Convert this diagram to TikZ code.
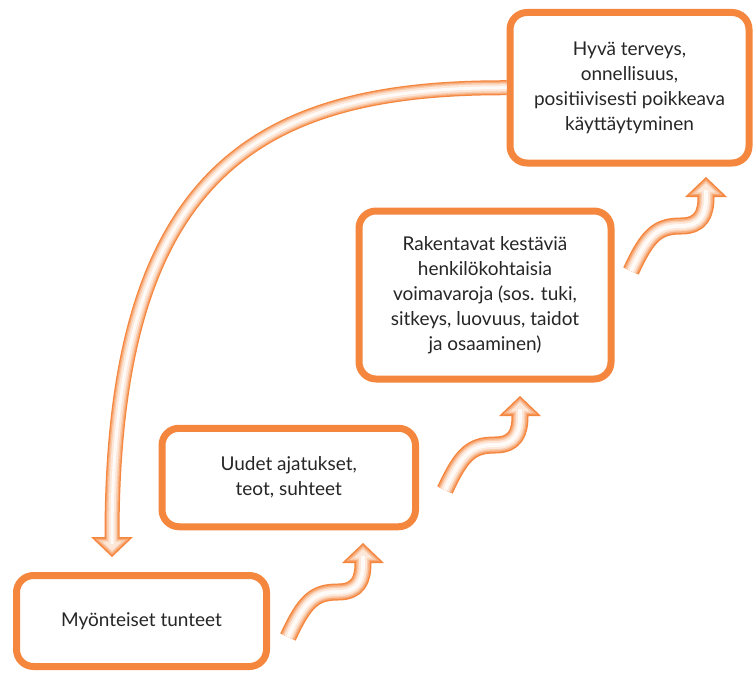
\documentclass[tikz,border=0pt]{standalone}
\usepackage{fontspec}
\setmainfont{Lato}
\usetikzlibrary{calc}
\definecolor{brand}{RGB}{244,134,62}
\begin{document}
\begin{tikzpicture}[x=1pt, y=-1pt,
    box/.style={draw=brand, line width=7pt, rounded corners=17pt, fill=white,
        align=center, inner sep=0pt, text=black!85,
        font=\fontsize{19}{25}\selectfont},
    tube/.style={line cap=butt, line join=round}
]
    \useasboundingbox (0,0) rectangle (754,674);
    \node[box, minimum width=250pt, minimum height=91pt] (myon) at (141.5,621) {Myönteiset tunteet};
    \node[box, minimum width=253.5pt, minimum height=98.5pt] (uudet) at (288.75,477.5) {Uudet ajatukset,\\teot, suhteet};
    \node[box, minimum width=252pt, minimum height=168pt] (rak) at (485,295) {Rakentavat kestäviä\\henkilökohtaisia\\voimavaroja (sos. tuki,\\sitkeys, luovuus, taidot\\ja osaaminen)};
    \node[box, minimum width=239pt, minimum height=150.5pt] (hyva) at (629.5,87.75) {Hyvä terveys,\\onnellisuus,\\positiivisesti poikkeava\\käyttäytyminen};
    \coordinate (back) at (112,537);
    \foreach \i/\dx/\dy in {1/0/0, 2/157/-147, 3/343/-366} {
        \coordinate (t\i) at (288+\dx,637+\dy);
        \coordinate (h\i) at (363+\dx,563+\dy);
    }
    \foreach \w/\v/\c/\k in {17/15/brand/1, 14/12.5/brand!70/0.82, 11/10/brand!42/0.64, 8/7/brand!20/0.46} {
        \draw[tube, draw=\c, line width=\v pt] (hyva.west) .. controls (260,87) and (112,170) .. (back) -- ++(0,7);
        \begin{scope}[shift={($(back)+(0,8.4)$)}, scale=\k, yscale=-1]
            \fill[fill=\c] (-21,8.4) -- (21,8.4) -- (0,-11.6) -- cycle;
        \end{scope}
        \foreach \i in {1,2,3} {
            \draw[tube, draw=\c, line width=\w pt] (t\i) .. controls ($(t\i)+(17,-37)$) and ($(h\i)+(-48,29)$) .. ($(h\i)+(-25,29)$) .. controls ($(h\i)+(-5,29)$) and ($(h\i)+(0,17)$) .. (h\i) -- ++(0,-7);
            \begin{scope}[shift={($(h\i)+(0,-8.4)$)}, scale=\k]
                \fill[fill=\c] (-21,8.4) -- (21,8.4) -- (0,-11.6) -- cycle;
            \end{scope}
        }
    }
    \draw[tube, white, opacity=.8, line width=3pt] (hyva.west) .. controls (260,87) and (112,170) .. (back) -- ++(0,7);
    \foreach \i in {1,2,3}
        \draw[tube, white, opacity=.8, line width=4pt] (t\i) .. controls ($(t\i)+(17,-37)$) and ($(h\i)+(-48,29)$) .. ($(h\i)+(-25,29)$) .. controls ($(h\i)+(-5,29)$) and ($(h\i)+(0,17)$) .. (h\i) -- ++(0,-7);
\end{tikzpicture}
\end{document}
